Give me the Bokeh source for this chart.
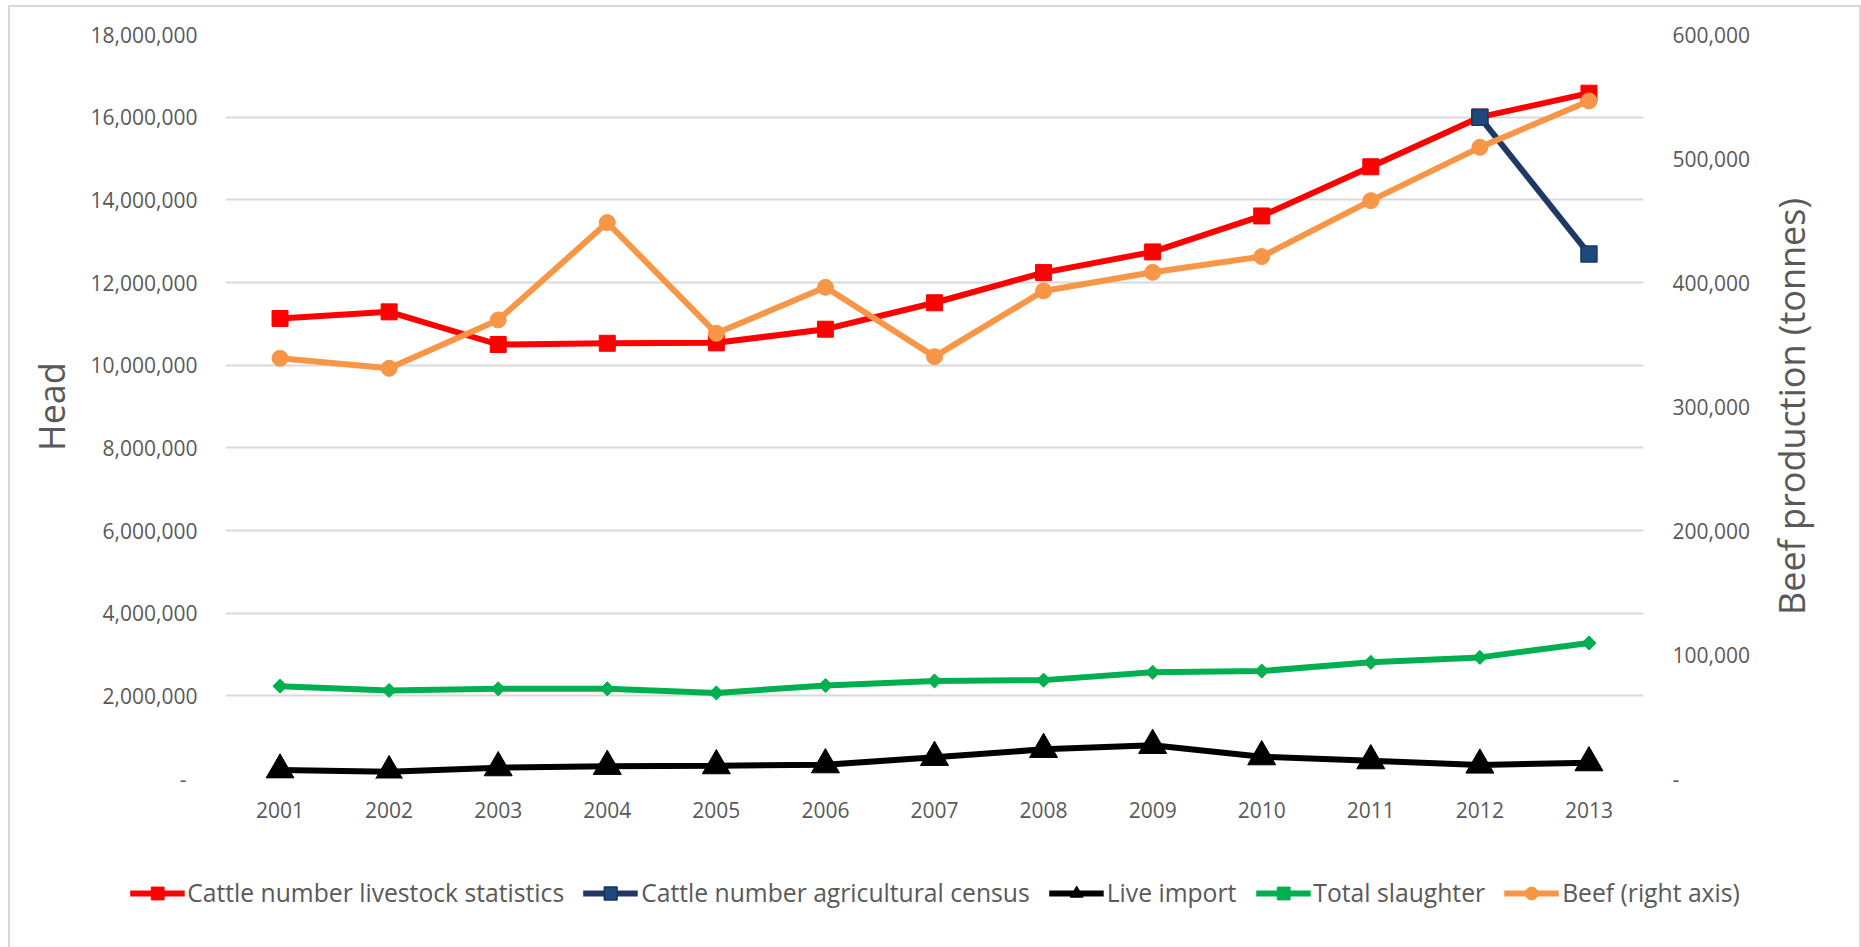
from bokeh.plotting import figure
from bokeh.layouts import column, row
from bokeh.models import (FactorRange, Range1d, LinearAxis, FixedTicker, CustomJSTickFormatter,
                          Legend, LegendItem)
from bokeh.embed import file_html
from bokeh.resources import INLINE

# ---------------- data ----------------
years = ["2001", "2002", "2003", "2004", "2005", "2006", "2007",
         "2008", "2009", "2010", "2011", "2012", "2013"]
cattle_livestock = [11.13e6, 11.29e6, 10.50e6, 10.53e6, 10.54e6, 10.87e6, 11.51e6,
                    12.24e6, 12.74e6, 13.61e6, 14.80e6, 16.00e6, 16.58e6]
census_years = ["2012", "2013"]
cattle_census = [16.00e6, 12.69e6]
live_import = [205e3, 165e3, 261e3, 295e3, 310e3, 333e3, 512e3,
               705e3, 802e3, 527e3, 430e3, 326e3, 382e3]
total_slaughter = [2.234e6, 2.13e6, 2.17e6, 2.17e6, 2.07e6, 2.25e6, 2.36e6,
                   2.38e6, 2.57e6, 2.60e6, 2.81e6, 2.93e6, 3.28e6]
beef = [338.9e3, 330.8e3, 369.8e3, 448.3e3, 359.0e3, 396.1e3, 340.2e3,
        393.2e3, 408.2e3, 420.9e3, 466.0e3, 509.0e3, 546.4e3]
left_ticks = [0, 2e6, 4e6, 6e6, 8e6, 10e6, 12e6, 14e6, 16e6, 18e6]
right_ticks = [0, 100e3, 200e3, 300e3, 400e3, 500e3, 600e3]
labels = ["Cattle number livestock statistics", "Cattle number agricultural census",
          "Live import", "Total slaughter", "Beef (right axis)"]
left_title = "Head"
right_title = "Beef production (tonnes)"

FONT = "Open Sans"
TXT = "#595959"
GRID = "#d9d9d9"
LW = 6

# series styles: (line color, marker, size, fill, marker line color, angle)
styles = [
    ("#FF0000", "square", 16, "#FF0000", "#FF0000", 0.0),
    ("#1F3864", "square", 16, "#1F497D", "#17375E", 0.0),
    ("#000000", "triangle", 28, "#000000", "#000000", 0.0),
    ("#00B050", "square", 10, "#00B050", "#00B050", 0.7854),
    ("#F79646", "circle", 16, "#F79646", "#F79646", 0.0),
]
series = [
    (years, cattle_livestock, "default"),
    (census_years, cattle_census, "default"),
    (years, live_import, "default"),
    (years, total_slaughter, "default"),
    (years, beef, "beef"),
]

# ---------------- main chart ----------------
p = figure(width=1750, height=855, x_range=FactorRange(*years),
           y_range=Range1d(0, 18e6), output_backend="svg", toolbar_location=None,
           min_border_left=215, min_border_right=117, min_border_top=27, min_border_bottom=84)
p.extra_y_ranges = {"beef": Range1d(0, 600e3)}
p.outline_line_color = None
p.background_fill_color = "white"
p.border_fill_color = "white"

fmt_left = CustomJSTickFormatter(code=r"""
if (tick == 0) { return "-\u00a0\u00a0"; }
return tick.toFixed(0).replace(/\B(?=(\d{3})+(?!\d))/g, ",");
""")
fmt_right = CustomJSTickFormatter(code=r"""
if (tick == 0) { return "-"; }
return tick.toFixed(0).replace(/\B(?=(\d{3})+(?!\d))/g, ",");
""")

def style_axis(ax, label_standoff):
    ax.major_tick_in = 0
    ax.major_tick_out = 0
    ax.minor_tick_in = 0
    ax.minor_tick_out = 0
    ax.axis_line_color = None
    ax.major_label_text_font = FONT
    ax.major_label_text_font_size = "21px"
    ax.major_label_text_color = TXT
    ax.axis_label_text_font = FONT
    ax.axis_label_text_font_size = "36px"
    ax.axis_label_text_font_style = "normal"
    ax.axis_label_text_color = TXT
    ax.axis_label_standoff = label_standoff

ya = p.yaxis[0]
ya.ticker = FixedTicker(ticks=left_ticks)
ya.formatter = fmt_left
ya.axis_label = left_title
style_axis(ya, 12)
ya.major_label_standoff = 28

ra = LinearAxis(y_range_name="beef", ticker=FixedTicker(ticks=right_ticks), formatter=fmt_right)
style_axis(ra, 0)
ra.major_label_standoff = 29
p.add_layout(ra, "right")

xa = p.xaxis[0]
style_axis(xa, 0)
xa.major_label_standoff = 23

p.ygrid.ticker = FixedTicker(ticks=left_ticks)
p.ygrid.grid_line_color = GRID
p.ygrid.grid_line_width = 2
p.xgrid.grid_line_color = None

for (xs, ys, rng), (lc, mk, sz, fc, mlc, ang) in zip(series, styles):
    p.line(xs, ys, line_color=lc, line_width=LW, y_range_name=rng)
    p.scatter(xs, ys, marker=mk, size=sz, angle=ang, fill_color=fc, line_color=mlc,
              line_width=1.5 if mlc != fc else 1, y_range_name=rng)

# ---------------- right axis title (reads bottom to top) ----------------
pr = figure(width=99, height=855, x_range=Range1d(0, 1), y_range=Range1d(0, 1),
            output_backend="svg", toolbar_location=None, x_axis_location=None,
            min_border_left=55, min_border_right=0, min_border_top=27, min_border_bottom=84)
pr.outline_line_color = None
pr.grid.grid_line_color = None
ay = pr.yaxis[0]
ay.ticker = FixedTicker(ticks=[])
ay.formatter = CustomJSTickFormatter(code="return '';")
ay.axis_label = right_title
style_axis(ay, 0)
ay.major_label_standoff = 0

# ---------------- legend strip ----------------
# the series are drawn again here only as legend proxies; the y range keeps them out of view
pl = figure(width=1849, height=85, x_range=FactorRange(*years), y_range=Range1d(-2, -1),
            output_backend="svg", toolbar_location=None, x_axis_location=None,
            y_axis_location=None, min_border=0)
pl.outline_line_color = None
pl.grid.grid_line_color = None
items = []
for lab, (xs, ys, rng), (lc, mk, sz, fc, mlc, ang) in zip(labels, series, styles):
    lr = pl.line(xs, ys, line_color=lc, line_width=LW)
    sr = pl.scatter(xs, ys, marker=mk, size=sz, angle=ang, fill_color=fc, line_color=mlc,
                    line_width=1.5 if mlc != fc else 1)
    items.append(LegendItem(label=lab, renderers=[lr, sr]))
legend = Legend(items=items, orientation="horizontal", location="top_center",
                margin=14, padding=0, spacing=19, glyph_width=55, glyph_height=32,
                label_standoff=3, label_text_font=FONT, label_text_font_size="24.7px",
                label_text_color=TXT, border_line_color=None, background_fill_alpha=0)
pl.add_layout(legend, "center")

layout = column(row(p, pr, spacing=0), pl, spacing=0, margin=(5, 0, 0, 8),
                styles={"border-left": "2px solid #d9d9d9", "border-top": "2px solid #d9d9d9",
                        "border-right": "2px solid #d9d9d9"})

open("out.html", "w").write(file_html(layout, INLINE))
